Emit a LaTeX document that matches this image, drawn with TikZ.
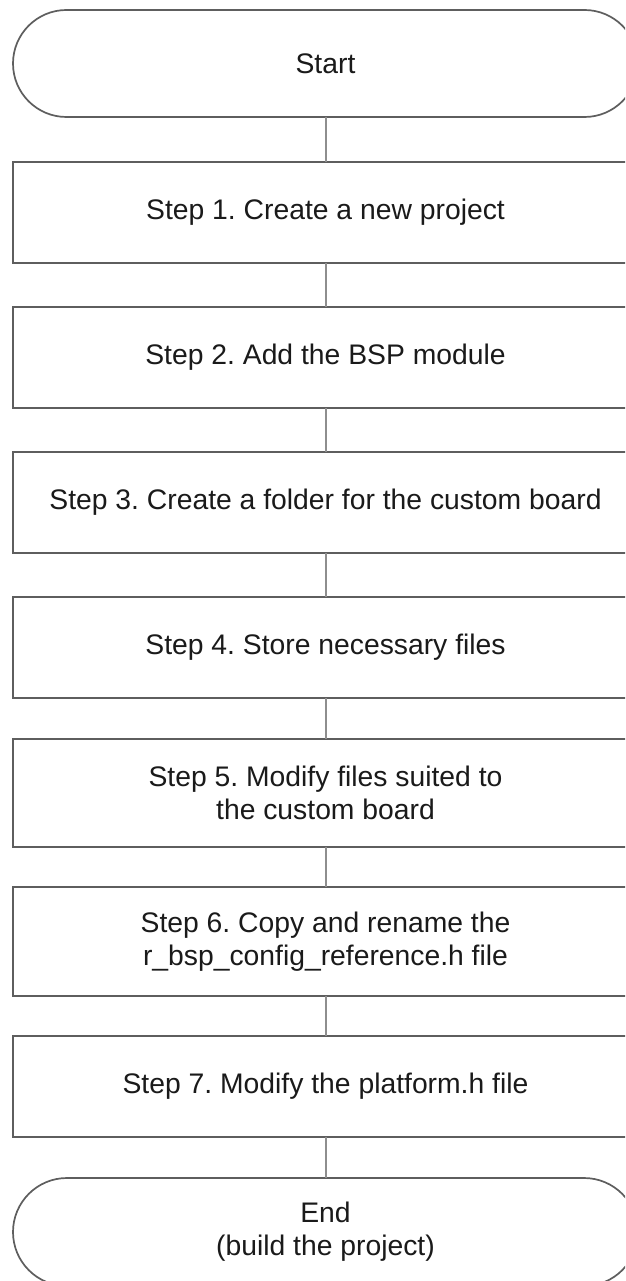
\documentclass[tikz,border=0pt]{standalone}
\usepackage{fontspec}
\setmainfont{Liberation Sans}
\frenchspacing
\definecolor{boxline}{HTML}{5E5E5E}
\definecolor{connline}{HTML}{8E8E8E}
\definecolor{txt}{HTML}{1A1A1A}
\begin{document}
\begin{tikzpicture}[x=1pt,y=-1pt,
  every node/.style={inner sep=0pt,outer sep=0pt},
  stepbox/.style={draw=boxline,line width=1.7pt,fill=white,rectangle,
    minimum width=625pt,minimum height=101pt,align=center,text=txt,
    font=\fontsize{28.3}{33}\selectfont\frenchspacing},
  termbox/.style={stepbox,rounded corners=53.5pt,minimum height=107pt},
  conn/.style={draw=connline,line width=2pt}]
\clip (0,0) rectangle (625,1281);
\fill[white] (0,0) rectangle (625,1281);
\node[termbox] (start) at (325.5,63.5) {Start};
\node[stepbox] (s1) at (325.5,212.5) {Step 1. Create a new project};
\node[stepbox] (s2) at (325.5,357.5) {Step 2. Add the BSP module};
\node[stepbox] (s3) at (325.5,502.5) {Step 3. Create a folder for the custom board};
\node[stepbox] (s4) at (325.5,647.5) {Step 4. Store necessary files};
\node[stepbox,minimum height=108pt] (s5) at (325.5,793) {Step 5. Modify files suited to\\the custom board};
\node[stepbox,minimum height=109pt] (s6) at (325.5,941.5) {Step 6. Copy and rename the\\r\_bsp\_config\_reference.h file};
\node[stepbox] (s7) at (325.5,1086.5) {Step 7. Modify the platform.h file};
\node[termbox,minimum height=108pt,rounded corners=54pt] (end) at (325.5,1232) {End\\(build the project)};
\draw[conn] (start) -- (s1);
\draw[conn] (s1) -- (s2);
\draw[conn] (s2) -- (s3);
\draw[conn] (s3) -- (s4);
\draw[conn] (s4) -- (s5);
\draw[conn] (s5) -- (s6);
\draw[conn] (s6) -- (s7);
\draw[conn] (s7) -- (end);
\end{tikzpicture}
\end{document}
